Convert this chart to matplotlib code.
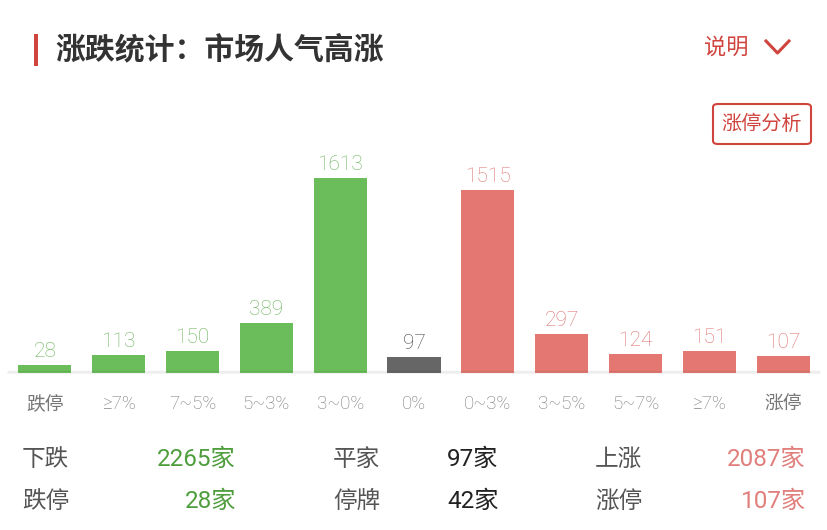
import matplotlib
matplotlib.use('Agg')
from matplotlib import pyplot as plt
from matplotlib.patches import FancyBboxPatch, Rectangle
from matplotlib.lines import Line2D
import numpy as np

plt.rcParams['font.family'] = ['Noto Sans CJK SC', 'DejaVu Sans']
THIN = ['Roboto', 'Noto Sans CJK SC', 'DejaVu Sans']

# data
categories = ['跌停', '≥7%', '7~5%', '5~3%', '3~0%', '0%', '0~3%', '3~5%', '5~7%', '≥7%', '涨停']
counts = [28, 113, 150, 389, 1613, 97, 1515, 297, 124, 151, 107]
sides = ['down'] * 5 + ['flat'] + ['up'] * 5

summary_rows = [
    [('下跌', '2265家', 'down'), ('平家', '97家', 'flat'), ('上涨', '2087家', 'up')],
    [('跌停', '28家', 'down'), ('停牌', '42家', 'flat'), ('涨停', '107家', 'up')],
]

bar_colors = {'down': '#6bbd5b', 'flat': '#666666', 'up': '#e57772'}
label_colors = {'down': '#6bb35b', 'flat': '#444444', 'up': '#dc7371'}
num_colors = {'down': '#4f9e3d', 'flat': '#222222', 'up': '#e07f7c'}
RED = '#d0443e'

W, H = 828, 530
fig = plt.figure(figsize=(W / 100, H / 100), dpi=100)
fig.patch.set_facecolor('white')


def fx(px):
    return px / W


def fy(py):
    return 1 - py / H


# header
fig.add_artist(Rectangle((fx(34), fy(66)), 4 / W, 32 / H, color=RED, lw=0,
                         transform=fig.transFigure))
fig.text(fx(55), fy(49), '涨跌统计：市场人气高涨', fontsize=21.5, fontweight='bold',
         color='#333333', va='center', ha='left')
fig.text(fx(704), fy(47), '说明', fontsize=16, color=RED, va='center', ha='left')
fig.add_artist(Line2D([fx(766), fx(777.5), fx(789)], [fy(41), fy(53), fy(41)],
                      color=RED, lw=2.2, transform=fig.transFigure))

# button
fig.add_artist(FancyBboxPatch((fx(713), fy(144)), 98 / W, 40 / H,
                              boxstyle='round,pad=0,rounding_size=0.006',
                              fc='white', ec=RED, lw=1.5, transform=fig.transFigure))
fig.text(fx(762), fy(124), '涨停分析', fontsize=14.5, color=RED, va='center', ha='center')

# bar chart (value axis starts a little below zero, so small bars stay visible)
base_px, top_px = 373, 130
px_per_unit = 0.118
ymin = -4.2 / px_per_unit
ymax = ymin + (base_px - top_px) / px_per_unit
ax = fig.add_axes([fx(8), fy(base_px), 812 / W, (base_px - top_px) / H])
x = np.arange(len(categories))
ax.bar(x, np.array(counts) - ymin, bottom=ymin, width=0.72,
       color=[bar_colors[s] for s in sides], zorder=2)
ax.set_xlim(-0.5, len(categories) - 0.5)
ax.set_ylim(ymin, ymax)
ax.axhline(ymin + 2 / px_per_unit, color='black', alpha=0.07, lw=1, zorder=3)
ax.axhline(ymin, color='#f0f0f0', lw=1.2, zorder=1, clip_on=False)
for xi, v, s in zip(x, counts, sides):
    ax.annotate(str(v), (xi, v), xytext=(0, 3), textcoords='offset points',
                ha='center', va='bottom', fontsize=15, color=label_colors[s],
                family=THIN, fontweight='light')
ax.set_xticks(x)
ax.set_xticklabels(categories, fontsize=13.5, color='#777777', family=THIN,
                   fontweight='light')
ax.tick_params(axis='x', length=0, pad=16)
ax.set_yticks([])
for sp in ax.spines.values():
    sp.set_visible(False)

# summary table
row_y = [459, 501]
col_label_x = [22, 333, 595]
col_num_x = [(236, 'right'), (447, 'left'), (806, 'right')]
for r, row in enumerate(summary_rows):
    for c, (lab, num, s) in enumerate(row):
        fig.text(fx(col_label_x[c]), fy(row_y[r]), lab, fontsize=17, color='#555555',
                 va='center', ha='left')
        nx, ha = col_num_x[c]
        fig.text(fx(nx), fy(row_y[r]), num, fontsize=17.5, color=num_colors[s],
                 va='center', ha=ha, family=THIN)

fig.savefig('out.png', dpi=100)
